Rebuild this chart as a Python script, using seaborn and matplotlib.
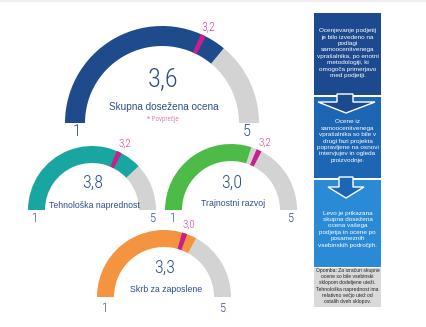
import matplotlib
matplotlib.use("Agg")
import math
import matplotlib.pyplot as plt
from matplotlib.patches import Wedge, Rectangle, Polygon
import seaborn as sns

# ---- data ----
gauge_names = ["Skupna dosežena ocena", "Tehnološka naprednost", "Trajnostni razvoj", "Skrb za zaposlene"]
gauge_values = [3.6, 3.8, 3.0, 3.3]
gauge_avgs = [3.2, 3.2, 3.2, 3.0]
gauge_colors = ["#1f4a8c", "#1aa6a0", "#4dbb48", "#f59440"]
scale_min, scale_max = 0, 5
end_labels = ["1", "5"]

box_texts = [
    "Ocenjevanje podjetij\nje bilo izvedeno na\npodlagi\nsamoocenitvenega\nvprašalnika, po enotni\nmetodologiji, ki\nomogoča primerjavo\nmed podjetji.",
    "Ocene iz\nsamoocenitvenega\nvprašalnika so bile v\ndrugi fazi projekta\npopravljene na osnovi\nintervjujev in ogleda\nproizvodnje.",
    "Levo je prikazana\nskupna dosežena\nocena vašega\npodjetja in ocene po\nposameznih\nvsebinskih področjih.",
]
note_text = ("Opomba: Za izračun skupne\nocene so bile vsebinski\nsklopom dodeljene uteži.\n"
             "Tehnološka naprednost ima\nrelativno večjo utež od\nostalih dveh sklopov.")

sns.set_theme(style="white")
plt.rcParams['font.family'] = ['Liberation Sans', 'DejaVu Sans']

W, H = 426, 327
fig = plt.figure(figsize=(W / 100, H / 100), dpi=100)
ax = fig.add_axes([0, 0, 1, 1])
ax.set_xlim(0, W)
ax.set_ylim(0, H)
ax.set_aspect("equal")
ax.axis("off")

def Y(y):
    return H - y

txt_col = "#2f4d8c"
pink = "#c81f8c"
pink_txt = "#d0409a"
gray = "#d3d3d3"
narrow = ['Roboto Condensed', 'Oswald', 'DejaVu Sans']
nw = 300

layout = [
    dict(c=(162, 123), R=97, w=20, vy=79, ly=107, vfs=19, lfs=7.2, efs=12, ey=132, ex=(77, 247), afs=8.5),
    dict(c=(92, 210), R=64, w=17, vy=183, ly=206, vfs=13, lfs=6.3, efs=9, ey=218, ex=(35, 153), afs=8),
    dict(c=(231, 210), R=66, w=17, vy=183, ly=204, vfs=13, lfs=6.3, efs=9, ey=218, ex=(173, 291), afs=8),
    dict(c=(164, 297), R=67, w=17, vy=268, ly=289, vfs=13, lfs=6.3, efs=9, ey=308, ex=(105, 223), afs=8),
]

def ang(v):
    return 180 - 180 * (v - scale_min) / (scale_max - scale_min)

for name, val, avg, col, L in zip(gauge_names, gauge_values, gauge_avgs, gauge_colors, layout):
    cx, cy = L["c"]
    R, w = L["R"], L["w"]
    a = ang(val)
    ax.add_patch(Wedge((cx, Y(cy)), R, 0, a, width=w, facecolor=gray, edgecolor="none"))
    ax.add_patch(Wedge((cx, Y(cy)), R, a, 180, width=w, facecolor=col, edgecolor="none"))
    am = ang(avg)
    hw = 2.2 * 97 / R / 1.4
    ax.add_patch(Wedge((cx, Y(cy)), R, am - hw, am + hw, width=w, facecolor=pink, edgecolor="none"))
    rl = R + 8
    lx = cx + rl * math.cos(math.radians(am)) + 2
    ly = cy - rl * math.sin(math.radians(am)) - 1
    ax.text(lx, Y(ly), f"{avg:.1f}".replace(".", ","), color=pink_txt, fontsize=L["afs"],
            ha="center", va="center", family=narrow, fontweight=nw)
    ax.text(cx + 1, Y(L["vy"]), f"{val:.1f}".replace(".", ","), color=txt_col, fontsize=L["vfs"],
            ha="center", va="center", family=narrow, fontweight=nw)
    ax.text(cx + 2, Y(L["ly"]), name, color=txt_col, fontsize=L["lfs"], ha="center", va="center")
    for ex, t in zip(L["ex"], end_labels):
        ax.text(ex, Y(L["ey"]), t, color=txt_col, fontsize=L["efs"], ha="center", va="center",
                family=narrow, fontweight=nw)

ax.text(163, Y(119.5), "* Povprečje", color=pink_txt, fontsize=5, ha="center", va="center",
        family=narrow, fontweight=nw)

# ---- right side boxes ----
bx0, bx1 = 314, 381
box_cols = ["#1d4a8e", "#1c66b3", "#2a8ad6"]
box_spans = [(13, 95), (97, 178), (180, 267)]
text_y = [53, 141, 229]
for (t0, t1), c, t, ty in zip(box_spans, box_cols, box_texts, text_y):
    ax.add_patch(Rectangle((bx0, Y(t1)), bx1 - bx0, t1 - t0, facecolor=c, edgecolor="none"))
    ax.text((bx0 + bx1) / 2, Y(ty), t, color="white", fontsize=4.6, ha="center", va="center",
            linespacing=1.35)

arrows = [
    dict(col=box_cols[0], top=95, sx=(337, 353), hy=102, hx=(318, 375), tip=(346, 113)),
    dict(col=box_cols[1], top=178, sx=(339, 353), hy=187, hx=(328, 364), tip=(346, 198)),
]
for A in arrows:
    pts = [(A["sx"][0], A["top"] - 1), (A["sx"][0], A["hy"]), (A["hx"][0], A["hy"]), A["tip"],
           (A["hx"][1], A["hy"]), (A["sx"][1], A["hy"]), (A["sx"][1], A["top"] - 1)]
    ax.add_patch(Polygon([(x, Y(y)) for x, y in pts], closed=True, facecolor=A["col"],
                         edgecolor="white", linewidth=1.0, joinstyle="miter"))

ax.add_patch(Rectangle((bx0, Y(307)), bx1 - bx0, 307 - 268, facecolor="#d9d9d9", edgecolor="none"))
ax.text((bx0 + bx1) / 2, Y(286), note_text, color="#222222", fontsize=3.6, ha="center",
        va="center", linespacing=1.3)

ax.plot([0, W], [Y(0.8), Y(0.8)], color="#f3eef0", linewidth=1.5)

fig.savefig("out.png", dpi=100)
